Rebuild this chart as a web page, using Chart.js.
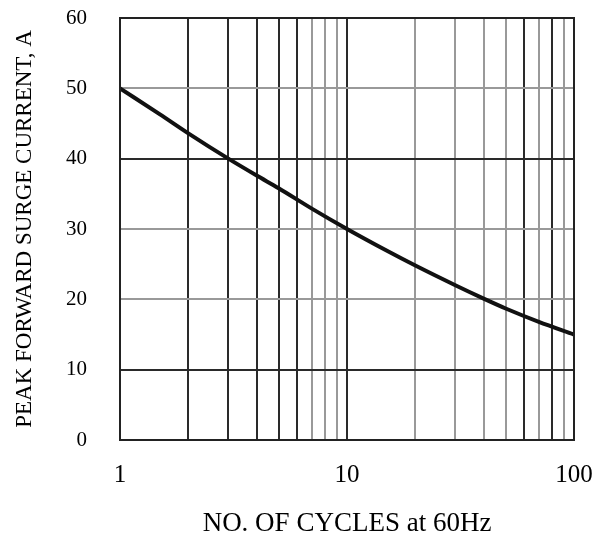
<!DOCTYPE html>
<html lang="en">
<head>
<meta charset="UTF-8">
<title>Peak Forward Surge Current</title>
<script src="https://cdn.jsdelivr.net/npm/chart.js"></script>
<style>
  html, body { margin: 0; padding: 0; background: #fff; }
  #wrap { width: 604px; height: 537px; }
</style>
</head>
<body>
<div id="wrap"><canvas id="grafico"></canvas></div>
<script>
// datos
const ciclos = [1, 1.5, 2, 3, 4, 5, 7, 10, 15, 20, 30, 40, 50, 70, 100];
const corriente = [50, 46.3, 43.6, 40, 37.6, 35.8, 32.9, 30, 26.9, 24.8, 22, 20.1, 18.7, 16.8, 15];

// lineas de la rejilla
const xTicks = [1, 2, 3, 4, 5, 6, 7, 8, 9, 10, 20, 30, 40, 50, 60, 70, 80, 90, 100];
const xEtiquetas = [1, 10, 100];
const xOscuras = [1, 2, 3, 4, 5, 6, 10, 60, 80, 100];
const yTicks = [0, 10, 20, 30, 40, 50, 60];
const yOscuras = [0, 10, 40, 60];

const serif = 'Liberation Serif';

new Chart(document.getElementById('grafico'), {
  type: 'line',
  data: {
    datasets: [{
      data: ciclos.map((c, i) => ({ x: c, y: corriente[i] })),
      borderColor: '#111',
      borderWidth: 4,
      pointRadius: 0,
      cubicInterpolationMode: 'monotone',
      fill: false
    }]
  },
  options: {
    responsive: true,
    maintainAspectRatio: false,
    animation: false,
    layout: { padding: { left: 0, right: 30, top: 18, bottom: 0 } },
    plugins: { legend: { display: false }, tooltip: { enabled: false } },
    scales: {
      x: {
        type: 'logarithmic',
        min: 1,
        max: 100,
        afterBuildTicks: s => { s.ticks = xTicks.map(v => ({ value: v })); },
        // tamaño fijo del eje, sin el margen extra de las etiquetas
        afterFit: s => { s.height = 97; s.paddingLeft = 0; s.paddingRight = 0; },
        ticks: {
          autoSkip: false,
          maxRotation: 0,
          padding: 20,
          color: '#000',
          font: { family: serif, size: 25 },
          callback: v => xEtiquetas.includes(v) ? String(v) : ''
        },
        grid: {
          drawTicks: false,
          lineWidth: 2,
          color: c => xOscuras.includes(c.tick && c.tick.value) ? '#2a2a2a' : '#999'
        },
        border: { color: '#222', width: 2 },
        title: {
          display: true,
          text: 'NO. OF CYCLES at 60Hz',
          color: '#000',
          font: { family: serif, size: 27, lineHeight: 1 },
          padding: { top: 0, bottom: 0 }
        }
      },
      y: {
        min: 0,
        max: 60,
        afterBuildTicks: s => { s.ticks = yTicks.map(v => ({ value: v })); },
        afterFit: s => { s.width = 120; s.paddingTop = 0; s.paddingBottom = 0; },
        ticks: {
          padding: 33,
          color: '#000',
          font: { family: serif, size: 21 }
        },
        grid: {
          drawTicks: false,
          lineWidth: 2,
          color: c => yOscuras.includes(c.tick && c.tick.value) ? '#2a2a2a' : '#999'
        },
        border: { color: '#222', width: 2 },
        title: {
          display: true,
          text: 'PEAK FORWARD SURGE CURRENT, A',
          color: '#000',
          font: { family: serif, size: 23 },
          padding: { top: 11, bottom: 0 }
        }
      }
    }
  },
  plugins: [{
    // marco completo del area del grafico
    id: 'marco',
    afterDraw(chart) {
      const { ctx, chartArea: a } = chart;
      ctx.save();
      ctx.strokeStyle = '#222';
      ctx.lineWidth = 2;
      ctx.strokeRect(a.left, a.top, a.right - a.left, a.bottom - a.top);
      ctx.restore();
    }
  }]
});
</script>
</body>
</html>
